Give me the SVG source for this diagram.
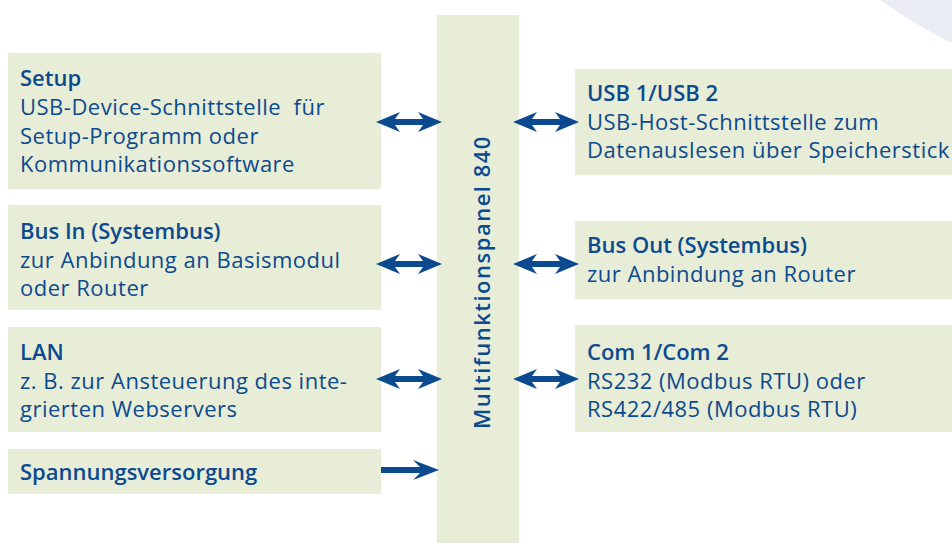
<svg xmlns="http://www.w3.org/2000/svg" width="952" height="543" viewBox="0 0 952 543">
<defs>
<style>
.box{fill:#e8edd8}
.t{font-family:"Open Sans","Liberation Sans",sans-serif;font-size:22px;fill:#0b4a8e;white-space:pre;letter-spacing:0.5px}
.b{font-weight:600;letter-spacing:0}
.arr{fill:#0b4a8e}
</style>
<path id="dbl" d="M0,0 L24,-10 L19,-3 L47,-3 L42,-10 L66,0 L42,10 L47,3 L19,3 L24,10 Z"/>
</defs>
<rect width="952" height="543" fill="#fff"/>
<path d="M880,0 Q915,25 952,43 L952,0 Z" fill="#ebedf5"/>
<g id="panel">
<rect class="box" x="437" y="15" width="82" height="528"/>
<text class="t b" transform="translate(490,282) rotate(-90)" text-anchor="middle" font-size="23" style="letter-spacing:1.5px">Multifunktionspanel 840</text>
</g>
<g id="setup">
<rect class="box" x="8" y="53" width="373" height="136"/>
<text class="t"><tspan class="b" x="20" y="86">Setup</tspan><tspan x="20" y="115">USB-Device-Schnittstelle  für</tspan><tspan x="20" y="144">Setup-Programm oder</tspan><tspan x="20" y="172">Kommunikationssoftware</tspan></text>
</g>
<g id="busin">
<rect class="box" x="8" y="205" width="373" height="105"/>
<text class="t"><tspan class="b" x="20" y="239">Bus In (Systembus)</tspan><tspan x="20" y="268">zur Anbindung an Basismodul</tspan><tspan x="20" y="296">oder Router</tspan></text>
</g>
<g id="lan">
<rect class="box" x="8" y="327" width="373" height="105"/>
<text class="t"><tspan class="b" x="20" y="360">LAN</tspan><tspan x="20" y="389">z. B. zur Ansteuerung des inte-</tspan><tspan x="20" y="417">grierten Webservers</tspan></text>
</g>
<g id="power">
<rect class="box" x="8" y="449" width="373" height="45"/>
<text class="t b" x="20" y="480">Spannungsversorgung</text>
</g>
<g id="usb">
<rect class="box" x="575" y="69" width="377" height="106"/>
<text class="t"><tspan class="b" x="587" y="101">USB 1/USB 2</tspan><tspan x="587" y="130">USB-Host-Schnittstelle zum</tspan><tspan x="587" y="158">Datenauslesen über Speicherstick</tspan></text>
</g>
<g id="busout">
<rect class="box" x="575" y="221" width="377" height="78"/>
<text class="t"><tspan class="b" x="587" y="253">Bus Out (Systembus)</tspan><tspan x="587" y="282">zur Anbindung an Router</tspan></text>
</g>
<g id="com">
<rect class="box" x="575" y="325" width="377" height="107"/>
<text class="t"><tspan class="b" x="587" y="360">Com 1/Com 2</tspan><tspan x="587" y="389">RS232 (Modbus RTU) oder</tspan><tspan x="587" y="417">RS422/485 (Modbus RTU)</tspan></text>
</g>
<g id="connectors" class="arr">
<use href="#dbl" x="376" y="122"/>
<use href="#dbl" x="376" y="264"/>
<use href="#dbl" x="376" y="379"/>
<use href="#dbl" x="513" y="122"/>
<use href="#dbl" x="513" y="264"/>
<use href="#dbl" x="513" y="379"/>
<path d="M381,467 L420,467 L413,460 L439,470 L413,480 L420,473 L381,473 Z"/>
</g>
</svg>
